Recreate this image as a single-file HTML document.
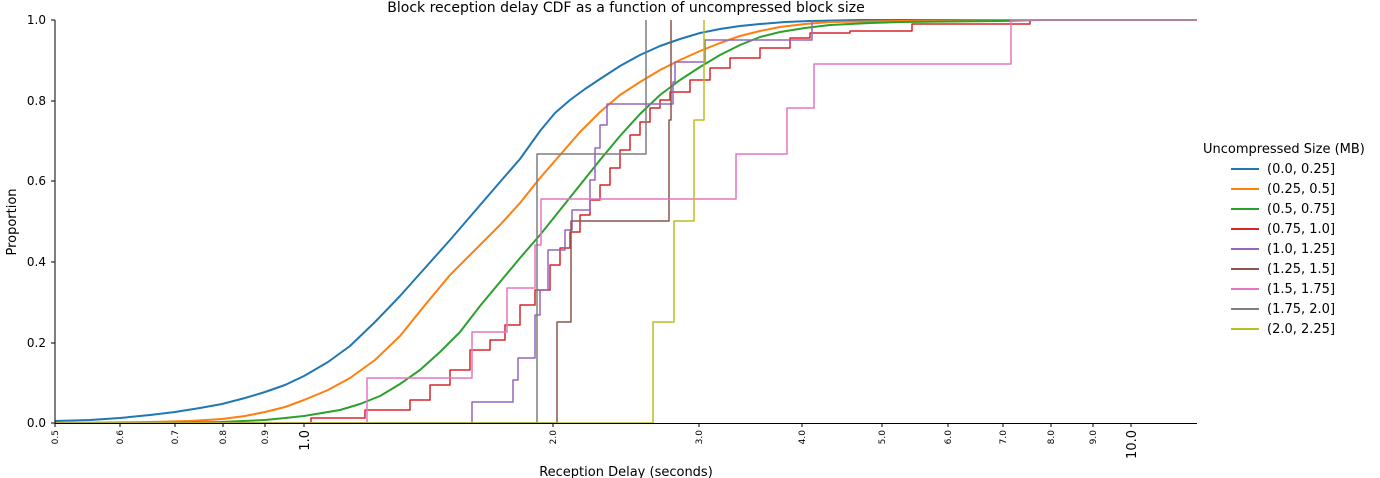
<!DOCTYPE html><html><head><style>body{margin:0;background:#fff}svg{display:block;font-family:"DejaVu Sans","Liberation Sans",sans-serif}</style></head><body>
<svg width="1380" height="478" viewBox="0 0 1380 478" xmlns="http://www.w3.org/2000/svg">
<text x="626" y="12" font-size="14" text-anchor="middle">Block reception delay CDF as a function of uncompressed block size</text>
<g fill="none" stroke-width="1.5" stroke-linejoin="round">
<polyline stroke="#1f77b4" stroke-width="2" points="55,421 90,420 120,418 150,415 175,412 200,408 222,404 245,398 265,392 285,385 304,376 328,362 350,346 375,322 400,296 425,268 450,240 475,211 500,182 520,159 540,131 555,113 570,100 585,89 600,79 620,66 640,55 660,46 680,39 700,33 720,29 740,26 760,24 785,22 810,21 860,20 1197,20"/>
<polyline stroke="#ff7f0e" stroke-width="2" points="55,423 150,422 190,421 222,419 245,416 265,412 285,407 304,400 328,390 350,378 375,360 400,336 425,305 450,275 475,250 500,225 520,203 540,178 560,155 580,132 600,112 620,95 640,82 660,70 680,60 700,51 720,43 740,36 760,31 780,27 805,24 830,22 900,21 1000,20 1197,20"/>
<polyline stroke="#2ca02c" stroke-width="2" points="160,423 220,422 265,420 285,418 304,416 322,413 340,410 360,404 380,396 400,384 420,370 440,352 460,332 480,306 500,282 520,258 540,235 560,210 580,185 600,160 620,136 640,114 660,95 680,80 700,67 720,55 740,45 760,37 780,32 805,28 830,25 870,23 900,22 1000,21 1040,20 1197,20"/>
<polyline stroke="#d62728" points="311,423 311,418 365,418 365,410 410,410 410,400 430,400 430,385 450,385 450,370 470,370 470,350 490,350 490,340 505,340 505,325 520,325 520,305 535,305 535,290 550,290 550,265 560,265 560,248 570,248 570,232 580,232 580,215 590,215 590,200 600,200 600,185 610,185 610,168 620,168 620,150 630,150 630,135 640,135 640,122 650,122 650,108 660,108 660,100 670,100 670,92 690,92 690,80 710,80 710,68 730,68 730,58 760,58 760,48 790,48 790,38 810,38 810,33 850,33 850,31 912,31 912,24 1030,24 1030,21"/>
<polyline stroke="#9467bd" points="55,423 472,423 472,402 513,402 513,380 518,380 518,358 535,358 535,315 540,315 540,290 548,290 548,250 565,250 565,230 572,230 572,210 590,210 590,180 595,180 595,148 600,148 600,125 607,125 607,104 673,104 673,82 675,82 675,62 705,62 705,40 812,40 812,20"/>
<polyline stroke="#8c564b" points="55,423 557,423 557,322 571,322 571,221 669,221 669,120 671,120 671,20"/>
<polyline stroke="#e377c2" points="55,423 367,423 367,378 472,378 472,332 507,332 507,288 535,288 535,245 541,245 541,199 736,199 736,154 787,154 787,108 814,108 814,64 1011,64 1011,20 1197,20"/>
<polyline stroke="#7f7f7f" points="55,423 537,423 537,154 646,154 646,20"/>
<polyline stroke="#bcbd22" points="55,423 653,423 653,322 674,322 674,221 694,221 694,120 704,120 704,20"/>
</g>
<g stroke="#000" stroke-width="1"><line x1="55" y1="20" x2="55" y2="423.5"/><line x1="55" y1="423.5" x2="1197" y2="423.5"/>
<line x1="51" y1="20" x2="55" y2="20"/><line x1="51" y1="101" x2="55" y2="101"/><line x1="51" y1="181" x2="55" y2="181"/><line x1="51" y1="262" x2="55" y2="262"/><line x1="51" y1="343" x2="55" y2="343"/><line x1="51" y1="423" x2="55" y2="423"/>
<line x1="55" y1="423" x2="55" y2="427"/><line x1="120" y1="423" x2="120" y2="427"/><line x1="175" y1="423" x2="175" y2="427"/><line x1="223" y1="423" x2="223" y2="427"/><line x1="265" y1="423" x2="265" y2="427"/><line x1="304" y1="423" x2="304" y2="427"/><line x1="553" y1="423" x2="553" y2="427"/><line x1="699" y1="423" x2="699" y2="427"/><line x1="802" y1="423" x2="802" y2="427"/><line x1="882" y1="423" x2="882" y2="427"/><line x1="948" y1="423" x2="948" y2="427"/><line x1="1003" y1="423" x2="1003" y2="427"/><line x1="1051" y1="423" x2="1051" y2="427"/><line x1="1093" y1="423" x2="1093" y2="427"/><line x1="1131" y1="423" x2="1131" y2="427"/></g>
<g font-size="12" text-anchor="end"><text x="46" y="24">1.0</text><text x="46" y="105">0.8</text><text x="46" y="185">0.6</text><text x="46" y="266">0.4</text><text x="46" y="347">0.2</text><text x="46" y="427">0.0</text></g>
<g font-size="9" text-anchor="end">
<text transform="translate(58,430) rotate(-90)">0.5</text><text transform="translate(123,430) rotate(-90)">0.6</text><text transform="translate(178,430) rotate(-90)">0.7</text><text transform="translate(226,430) rotate(-90)">0.8</text><text transform="translate(268,430) rotate(-90)">0.9</text><text transform="translate(556,430) rotate(-90)">2.0</text><text transform="translate(702,430) rotate(-90)">3.0</text><text transform="translate(805,430) rotate(-90)">4.0</text><text transform="translate(885,430) rotate(-90)">5.0</text><text transform="translate(951,430) rotate(-90)">6.0</text><text transform="translate(1006,430) rotate(-90)">7.0</text><text transform="translate(1054,430) rotate(-90)">8.0</text><text transform="translate(1096,430) rotate(-90)">9.0</text>
<text font-size="13" transform="translate(309,430) rotate(-90)">1.0</text><text font-size="13" transform="translate(1136,430) rotate(-90)">10.0</text></g>
<text x="626" y="476" font-size="13" text-anchor="middle">Reception Delay (seconds)</text>
<text transform="translate(16,222) rotate(-90)" font-size="13" text-anchor="middle">Proportion</text>
<text x="1203" y="153" font-size="13">Uncompressed Size (MB)</text>
<g font-size="13" stroke-width="2">
<line x1="1231" y1="169" x2="1259" y2="169" stroke="#1f77b4"/><text x="1267" y="173">(0.0, 0.25]</text>
<line x1="1231" y1="189" x2="1259" y2="189" stroke="#ff7f0e"/><text x="1267" y="193">(0.25, 0.5]</text>
<line x1="1231" y1="209" x2="1259" y2="209" stroke="#2ca02c"/><text x="1267" y="213">(0.5, 0.75]</text>
<line x1="1231" y1="229" x2="1259" y2="229" stroke="#d62728"/><text x="1267" y="233">(0.75, 1.0]</text>
<line x1="1231" y1="249" x2="1259" y2="249" stroke="#9467bd"/><text x="1267" y="253">(1.0, 1.25]</text>
<line x1="1231" y1="269" x2="1259" y2="269" stroke="#8c564b"/><text x="1267" y="273">(1.25, 1.5]</text>
<line x1="1231" y1="289" x2="1259" y2="289" stroke="#e377c2"/><text x="1267" y="293">(1.5, 1.75]</text>
<line x1="1231" y1="309" x2="1259" y2="309" stroke="#7f7f7f"/><text x="1267" y="313">(1.75, 2.0]</text>
<line x1="1231" y1="329" x2="1259" y2="329" stroke="#bcbd22"/><text x="1267" y="333">(2.0, 2.25]</text>
</g>
</svg></body></html>
